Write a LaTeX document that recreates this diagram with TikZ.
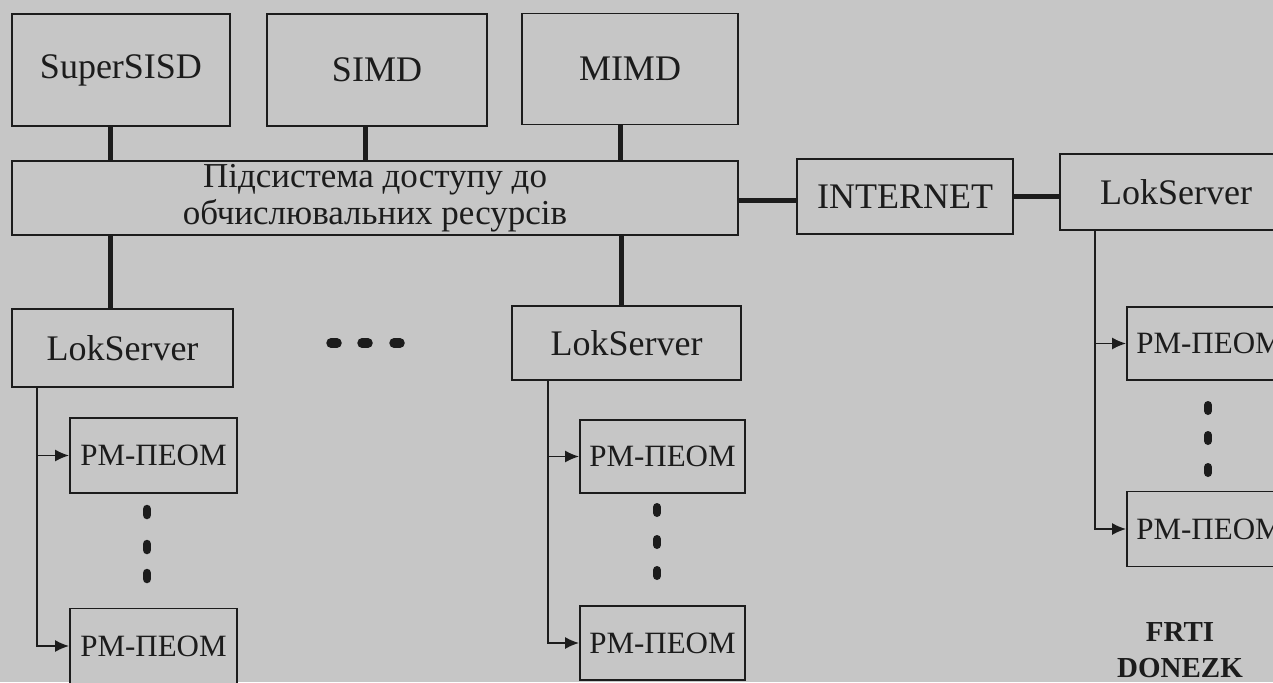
\documentclass[tikz,border=0pt]{standalone}
\usepackage{fontspec}
\setmainfont{Liberation Serif}
\usetikzlibrary{arrows.meta}
\definecolor{paper}{RGB}{198,198,198}
\definecolor{ink}{RGB}{28,28,28}
\tikzset{
  box/.style={draw=ink, line width=1.8pt, fill=paper, text=ink, inner sep=0pt, align=center},
  bigbox/.style={box, font=\fontsize{36}{40}\selectfont},
  pcbox/.style={box, minimum width=165pt, minimum height=74pt, font=\fontsize{31}{34}\selectfont},
  bus/.style={draw=ink, line width=5pt},
  feed/.style={draw=ink, line width=1.7pt, -{Latex[length=14pt,width=12pt]}},
  ellip/.style={draw=ink, line width=8.5pt, line cap=round}
}
\begin{document}
\begin{tikzpicture}[x=1pt, y=-1pt]
  \fill[paper] (0,0) rectangle (1273,682);
  \useasboundingbox (0,0) rectangle (1273,682);
  \clip (0,0) rectangle (1273,682);

  % computing systems
  \node[bigbox, minimum width=218pt, minimum height=112pt] (super) at (121,70) {SuperSISD};
  \node[bigbox, minimum width=220pt, minimum height=112pt] (simd) at (377,70) {SIMD};
  \node[bigbox, minimum width=216pt, minimum height=111pt] (mimd) at (630,69) {MIMD};

  % access subsystem
  \node[box, minimum width=726pt, minimum height=74pt, font=\fontsize{35}{37}\selectfont]
    (subsys) at (375,198) {Підсистема доступу до\\обчислювальних ресурсів};

  \node[bigbox, minimum width=216pt, minimum height=75pt] (inet) at (905,196.5) {INTERNET};
  \node[bigbox, minimum width=232pt, minimum height=76pt] (lokR) at (1176,192) {LokServer};

  % local servers
  \node[bigbox, minimum width=221pt, minimum height=78pt] (lokL) at (122.5,348) {LokServer};
  \node[bigbox, minimum width=229pt, minimum height=74pt] (lokM) at (626.5,343) {LokServer};

  % workstations
  \node[pcbox, minimum width=167pt, minimum height=75pt] (pL1) at (153.5,455.5) {РМ-ПЕОМ};
  \node[pcbox, minimum width=167pt, minimum height=75pt] (pL2) at (153.5,646) {РМ-ПЕОМ};
  \node[pcbox, minimum height=73pt] (pM1) at (662.5,456.5) {РМ-ПЕОМ};
  \node[pcbox] (pM2) at (662.5,643) {РМ-ПЕОМ};
  \node[pcbox, minimum height=73pt] (pR1) at (1209.5,343.5) {РМ-ПЕОМ};
  \node[pcbox, minimum height=75pt] (pR2) at (1209.5,529) {РМ-ПЕОМ};

  % bus links
  \draw[bus] ([xshift=-11pt]super.south) -- ([xshift=-11pt]super.south |- subsys.north);
  \draw[bus] ([xshift=-12pt]simd.south) -- ([xshift=-12pt]simd.south |- subsys.north);
  \draw[bus] ([xshift=-10pt]mimd.south) -- ([xshift=-10pt]mimd.south |- subsys.north);
  \draw[bus] ([yshift=-2pt]subsys.east) -- ([yshift=-2pt]subsys.east -| inet.west);
  \draw[bus] (inet.east) -- (inet.east -| lokR.west);
  \draw[bus] (subsys.south -| 110,0) -- (lokL.north -| 110,0);
  \draw[bus] (subsys.south -| 621,0) -- (lokM.north -| 621,0);

  % feeders to workstations
  \coordinate (tL) at (lokL.south -| 37,0);
  \coordinate (tM) at (lokM.south -| 548,0);
  \coordinate (tR) at (lokR.south -| 1095,0);
  \draw[feed] (tL) |- (pL1.west);
  \draw[feed] (tL) |- (pL2.west);
  \draw[feed] (tM) |- (pM1.west);
  \draw[feed] (tM) |- (pM2.west);
  \draw[feed] (tR) |- (pR1.west);
  \draw[feed] (tR) |- (pR2.west);

  % vertical ellipses
  \foreach \y in {512,547,576} \draw[ellip] (147,\y-3) -- (147,\y+3);
  \foreach \y in {510,542,573} \draw[ellip, line width=8pt] (657,\y-3) -- (657,\y+3);
  \foreach \y in {408,438,470} \draw[ellip, line width=8pt] (1208,\y-3) -- (1208,\y+3);

  % horizontal ellipsis between servers
  \foreach \x in {334,365,397} \draw[ellip, line width=9.5pt] (\x-3,343) -- (\x+3,343);

  \node[text=ink, font=\bfseries\fontsize{29}{36}\selectfont, align=center] (frti) at (1180,650) {FRTI\\DONEZK};
\end{tikzpicture}
\end{document}
